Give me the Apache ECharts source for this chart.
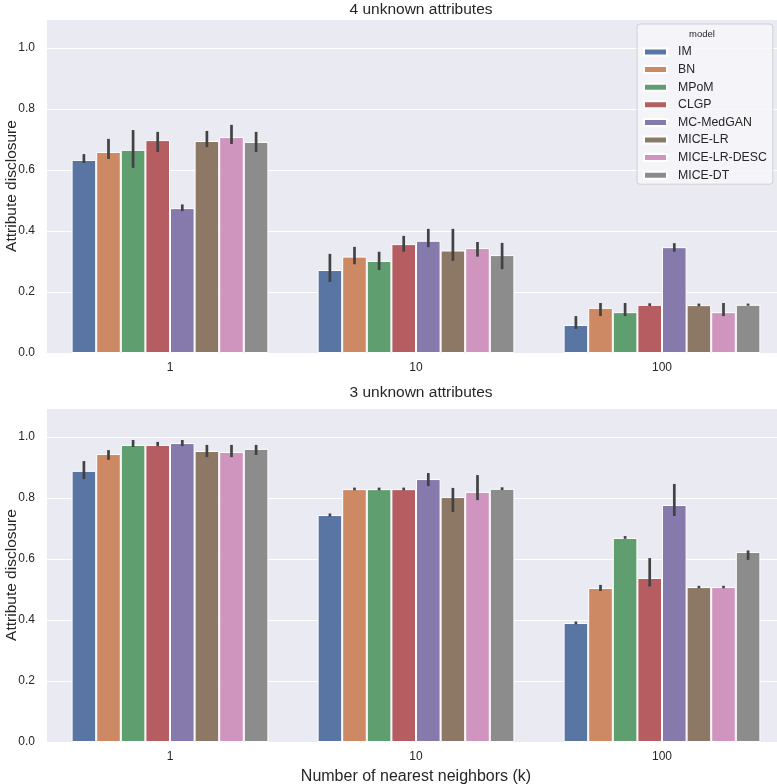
<!DOCTYPE html>
<html>
<head>
<meta charset="utf-8">
<script src="https://cdn.jsdelivr.net/npm/echarts@6/dist/echarts.min.js"></script>
<style>html,body{margin:0;padding:0;background:#fff;}#c{width:777px;height:784px;}</style>
</head>
<body>
<div id="c"></div>
<script>
const categories = ['1', '10', '100'];
const models = ['IM', 'BN', 'MPoM', 'CLGP', 'MC-MedGAN', 'MICE-LR', 'MICE-LR-DESC', 'MICE-DT'];
const colors = ['#5875A4', '#CC8963', '#5F9E6E', '#B55D60', '#857AAB', '#8D7866', '#D095BF', '#8C8C8C'];
const yTicks = [0, 0.2, 0.4, 0.6, 0.8, 1.0];

// 4 unknown attributes: mean per model for k = 1, 10, 100
const top4Mean = {
  'IM':           [0.633, 0.272, 0.092],
  'BN':           [0.659, 0.316, 0.148],
  'MPoM':         [0.666, 0.302, 0.134],
  'CLGP':         [0.698, 0.357, 0.158],
  'MC-MedGAN':    [0.475, 0.368, 0.347],
  'MICE-LR':      [0.695, 0.336, 0.157],
  'MICE-LR-DESC': [0.708, 0.344, 0.134],
  'MICE-DT':      [0.692, 0.321, 0.158]
};
const top4Low = {
  'IM':           [0.623, 0.233, 0.079],
  'BN':           [0.636, 0.291, 0.121],
  'MPoM':         [0.607, 0.272, 0.121],
  'CLGP':         [0.659, 0.332, 0.154],
  'MC-MedGAN':    [0.465, 0.347, 0.332],
  'MICE-LR':      [0.675, 0.302, 0.153],
  'MICE-LR-DESC': [0.685, 0.316, 0.121],
  'MICE-DT':      [0.659, 0.275, 0.155]
};
const top4High = {
  'IM':           [0.652, 0.325, 0.121],
  'BN':           [0.702, 0.348, 0.164],
  'MPoM':         [0.731, 0.332, 0.164],
  'CLGP':         [0.725, 0.384, 0.163],
  'MC-MedGAN':    [0.487, 0.407, 0.360],
  'MICE-LR':      [0.728, 0.407, 0.162],
  'MICE-LR-DESC': [0.748, 0.364, 0.164],
  'MICE-DT':      [0.725, 0.361, 0.162]
};
// 3 unknown attributes
const bot3Mean = {
  'IM':           [0.889, 0.744, 0.390],
  'BN':           [0.944, 0.829, 0.505],
  'MPoM':         [0.974, 0.829, 0.669],
  'CLGP':         [0.974, 0.829, 0.538],
  'MC-MedGAN':    [0.980, 0.862, 0.777],
  'MICE-LR':      [0.954, 0.803, 0.508],
  'MICE-LR-DESC': [0.951, 0.820, 0.508],
  'MICE-DT':      [0.961, 0.830, 0.623]
};
const bot3Low = {
  'IM':           [0.862, 0.739, 0.386],
  'BN':           [0.925, 0.825, 0.495],
  'MPoM':         [0.967, 0.825, 0.666],
  'CLGP':         [0.970, 0.825, 0.510],
  'MC-MedGAN':    [0.970, 0.839, 0.741],
  'MICE-LR':      [0.934, 0.754, 0.504],
  'MICE-LR-DESC': [0.934, 0.793, 0.504],
  'MICE-DT':      [0.941, 0.826, 0.597]
};
const bot3High = {
  'IM':           [0.921, 0.749, 0.395],
  'BN':           [0.957, 0.834, 0.515],
  'MPoM':         [0.990, 0.834, 0.675],
  'CLGP':         [0.984, 0.834, 0.603],
  'MC-MedGAN':    [0.990, 0.882, 0.846],
  'MICE-LR':      [0.974, 0.833, 0.512],
  'MICE-LR-DESC': [0.974, 0.875, 0.512],
  'MICE-DT':      [0.974, 0.835, 0.628]
};

const txt = '#262626';
const font = 'Liberation Sans';

function yAxis(gi) {
  return {
    type: 'value', gridIndex: gi, min: 0, max: 1.095, interval: 0.2,
    axisLine: { show: false }, axisTick: { show: false },
    axisLabel: { showMaxLabel: false, fontFamily: font, fontSize: 12, color: txt, margin: 12,
      formatter: v => (yTicks.some(t => Math.abs(t - v) < 1e-6) ? v.toFixed(1) : '') },
    splitLine: { show: true, lineStyle: { color: '#ffffff', width: 1.2 } }
  };
}
function xAxis(gi, withName) {
  const a = {
    type: 'category', gridIndex: gi, data: categories,
    axisLine: { show: false }, axisTick: { show: false },
    axisLabel: { fontFamily: font, fontSize: 12, color: txt, margin: 9 },
    splitLine: { show: false }
  };
  if (withName) {
    a.name = 'Number of nearest neighbors (k)';
    a.nameLocation = 'middle';
    a.nameGap = 27;
    a.nameTextStyle = { fontFamily: font, fontSize: 16, color: txt };
  }
  return a;
}

const series = [];
function addPanel(gi, mean, low, high) {
  models.forEach((m, k) => {
    series.push({
      type: 'bar', name: m, xAxisIndex: gi, yAxisIndex: gi,
      data: mean[m], barGap: '0%', barCategoryGap: '20%',
      itemStyle: { color: colors[k], borderColor: '#ffffff', borderWidth: 1 },
      emphasis: { disabled: true }, animation: false
    });
  });
  models.forEach((m, k) => {
    series.push({
      type: 'custom', name: m, xAxisIndex: gi, yAxisIndex: gi, z: 10,
      data: categories.map((c, i) => [i, low[m][i], high[m][i]]),
      renderItem: (params, api) => {
        const c = api.value(0);
        const lo = api.coord([c, api.value(1)]);
        const hi = api.coord([c, api.value(2)]);
        const band = api.size([1, 0])[0];
        const off = (k - 3.5) * band * 0.8 / 8;
        return {
          type: 'line',
          shape: { x1: lo[0] + off, y1: lo[1], x2: hi[0] + off, y2: hi[1] },
          style: { stroke: '#424242', lineWidth: 2.7, lineCap: 'butt' }
        };
      },
      animation: false, silent: true
    });
  });
}
addPanel(0, top4Mean, top4Low, top4High);
addPanel(1, bot3Mean, bot3Low, bot3High);

const chart = echarts.init(document.getElementById('c'), null, { renderer: 'canvas' });
chart.setOption({
  backgroundColor: '#ffffff',
  animation: false,
  title: [
    { text: '4 unknown attributes', left: 416, top: -3, textAlign: 'center',
      textStyle: { fontFamily: font, fontSize: 15.5, fontWeight: 'normal', color: txt } },
    { text: '3 unknown attributes', left: 416, top: 380, textAlign: 'center',
      textStyle: { fontFamily: font, fontSize: 15.5, fontWeight: 'normal', color: txt } }
  ],
  grid: [
    { left: 47, width: 738, top: 19, height: 334, show: true, backgroundColor: '#EAEAF2', borderWidth: 0,
      containLabel: false, outerBoundsMode: 'none' },
    { left: 47, width: 738, top: 408, height: 334, show: true, backgroundColor: '#EAEAF2', borderWidth: 0,
      containLabel: false, outerBoundsMode: 'none' }
  ],
  xAxis: [xAxis(0, false), xAxis(1, true)],
  yAxis: [yAxis(0), yAxis(1)],
  legend: {
    data: models, orient: 'vertical', left: 637, top: 24,
    itemWidth: 23, itemHeight: 7, itemGap: 3.6, icon: 'rect',
    padding: [21, 6, 2, 6],
    backgroundColor: 'rgba(247,247,250,0.85)', borderColor: '#d0d0d0', borderWidth: 1, borderRadius: 3,
    textStyle: { fontFamily: font, fontSize: 12.3, color: txt, lineHeight: 14, padding: [0, 0, 0, 6] },
    selectedMode: false
  },
  graphic: [
    { type: 'text', left: 689, top: 29, z: 100,
      style: { text: 'model', font: '9.5px "Liberation Sans"', fill: txt } },
    { type: 'text', x: 12, y: 186, rotation: Math.PI / 2, z: 100,
      style: { text: 'Attribute disclosure', font: '15.5px "Liberation Sans"', fill: txt,
        align: 'center', verticalAlign: 'middle' } },
    { type: 'text', x: 12, y: 575, rotation: Math.PI / 2, z: 100,
      style: { text: 'Attribute disclosure', font: '15.5px "Liberation Sans"', fill: txt,
        align: 'center', verticalAlign: 'middle' } }
  ],
  series: series
});
</script>
</body>
</html>
